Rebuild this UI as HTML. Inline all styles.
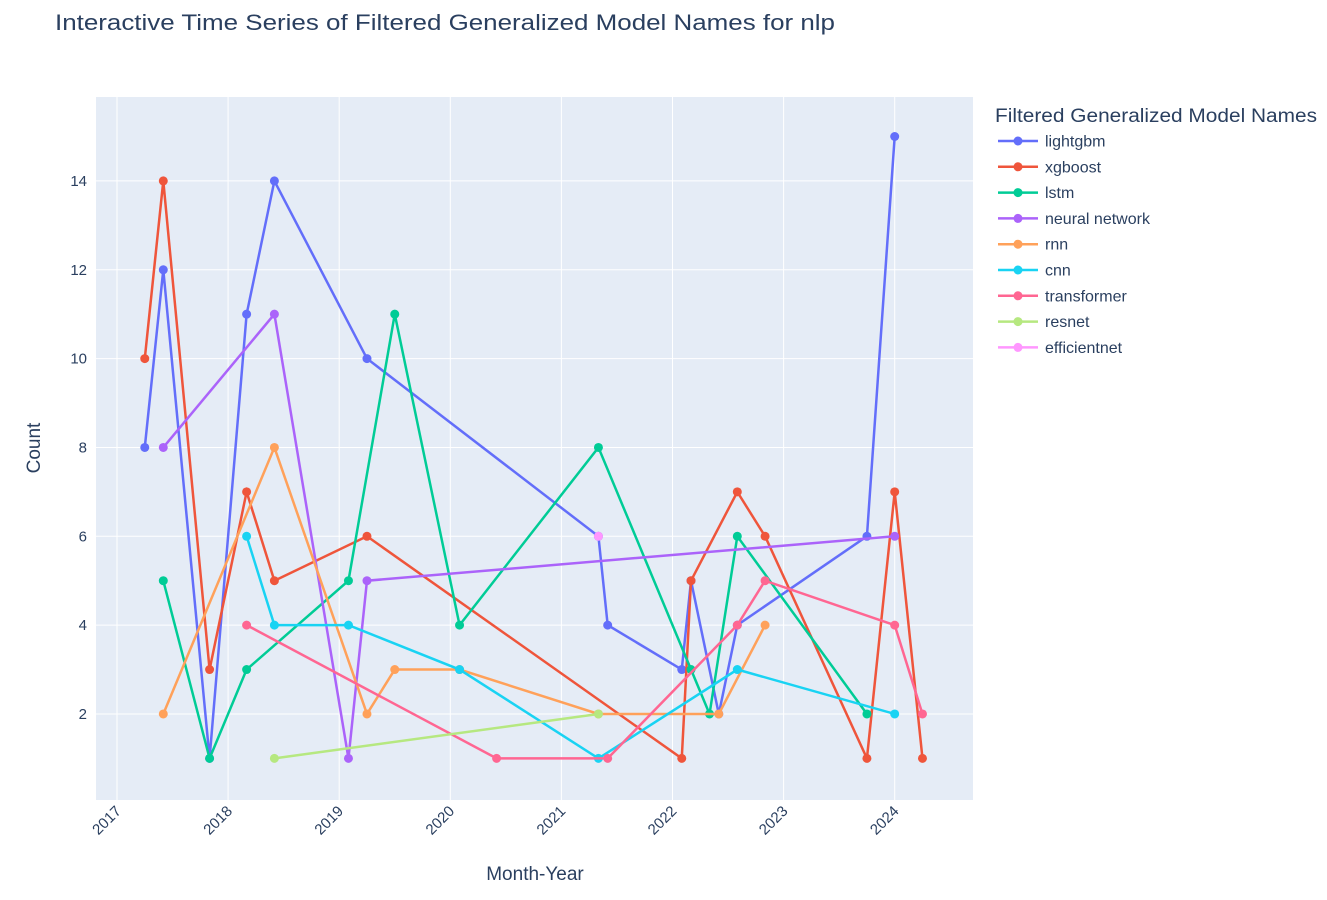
<!DOCTYPE html>
<html><head><meta charset="utf-8"><style>
body{margin:0;background:#fff;font-family:"Liberation Sans",sans-serif;}
svg text{font-family:"Liberation Sans",sans-serif;fill:#2a3f5f;}
</style></head><body>
<svg id="c" width="1327" height="895">
<text x="55" y="30" font-size="22" textLength="780" lengthAdjust="spacingAndGlyphs">Interactive Time Series of Filtered Generalized Model Names for nlp</text>
</svg>
<script>
const seriesNames=["lightgbm","xgboost","lstm","neural network","rnn","cnn","transformer","resnet","efficientnet"];
const colors=["#636efa","#EF553B","#00cc96","#ab63fa","#FFA15A","#19d3f3","#FF6692","#B6E880","#FF97FF"];
const lightgbmDates=["2017-04","2017-06","2017-11","2018-03","2018-06","2019-04","2021-05","2021-06","2022-02","2022-03","2022-06","2022-08","2023-10","2024-01"];
const lightgbmVals=[8,12,1,11,14,10,6,4,3,5,2,4,6,15];
const xgboostDates=["2017-04","2017-06","2017-11","2018-03","2018-06","2019-04","2022-02","2022-03","2022-08","2022-11","2023-10","2024-01","2024-04"];
const xgboostVals=[10,14,3,7,5,6,1,5,7,6,1,7,1];
const lstmDates=["2017-06","2017-11","2018-03","2019-02","2019-07","2020-02","2021-05","2022-03","2022-05","2022-08","2023-10"];
const lstmVals=[5,1,3,5,11,4,8,3,2,6,2];
const nnDates=["2017-06","2018-06","2019-02","2019-04","2024-01"];
const nnVals=[8,11,1,5,6];
const rnnDates=["2017-06","2018-06","2019-04","2019-07","2020-02","2021-05","2022-06","2022-11"];
const rnnVals=[2,8,2,3,3,2,2,4];
const cnnDates=["2018-03","2018-06","2019-02","2020-02","2021-05","2022-08","2024-01"];
const cnnVals=[6,4,4,3,1,3,2];
const trDates=["2018-03","2020-06","2021-06","2022-08","2022-11","2024-01","2024-04"];
const trVals=[4,1,1,4,5,4,2];
const resnetDates=["2018-06","2021-05"];
const resnetVals=[1,2];
const effDates=["2021-05"];
const effVals=[6];
const xTickLabels=["2017","2018","2019","2020","2021","2022","2023","2024"];
const yTickVals=[2,4,6,8,10,12,14];

const allDates=[lightgbmDates,xgboostDates,lstmDates,nnDates,rnnDates,cnnDates,trDates,resnetDates,effDates];
const allVals=[lightgbmVals,xgboostVals,lstmVals,nnVals,rnnVals,cnnVals,trVals,resnetVals,effVals];
const NS="http://www.w3.org/2000/svg";
const svg=document.getElementById('c');
const L=96,R=973,T=97,B=800;
function xs(d){const [y,m]=d.split('-').map(Number);return 117+(y-2017+(m-1)/12)*111.1;}
function ys(v){return 802.8-v*44.42;}
function mk(t,a,p){const e=document.createElementNS(NS,t);for(const k in a)e.setAttribute(k,a[k]);(p||svg).appendChild(e);return e;}
const bg=mk('rect',{x:L,y:T,width:R-L,height:B-T,fill:'#e5ecf6'});


yTickVals.forEach(v=>{
 mk('line',{x1:L,x2:R,y1:ys(v),y2:ys(v),stroke:'#fff','stroke-width':1});
 const t=mk('text',{x:L-9,y:ys(v)+5,'font-size':15,'text-anchor':'end'});t.textContent=v;
 
 
});
xTickLabels.forEach(l=>{
 const x=xs(l+'-01');
 mk('line',{x1:x,x2:x,y1:T,y2:B,stroke:'#fff','stroke-width':1});
 const t=mk('text',{x:x+5,y:B+12,'font-size':15,'text-anchor':'end',transform:`rotate(-45 ${x+5} ${B+12})`});t.textContent=l;
 
 
});
let t=mk('text',{x:535,y:880,'font-size':19,'text-anchor':'middle'});t.textContent='Month-Year';


t=mk('text',{x:40,y:448,'font-size':19,'text-anchor':'middle',transform:'rotate(-90 40 448)'});t.textContent='Count';


allDates.forEach((ds,i)=>{
 const g=mk('g',{});
 
 
 const pts=ds.map((d,j)=>xs(d)+','+ys(allVals[i][j])).join(' ');
 mk('polyline',{points:pts,fill:'none',stroke:colors[i],'stroke-width':2.5},g);
 ds.forEach((d,j)=>{const c=mk('circle',{cx:xs(d),cy:ys(allVals[i][j]),r:4.5,fill:colors[i]},g);
  
  });
});
t=mk('text',{x:995,y:122,'font-size':19,textLength:322,lengthAdjust:'spacingAndGlyphs'});t.textContent='Filtered Generalized Model Names';


seriesNames.forEach((n,i)=>{
 const y=141+i*25.8;
 const g=mk('g',{});
 
 
 mk('line',{x1:998,x2:1038,y1:y,y2:y,stroke:colors[i],'stroke-width':2.5},g);
 mk('circle',{cx:1018,cy:y,r:4.5,fill:colors[i]},g);
 const tt=mk('text',{x:1045,y:y+5.5,'font-size':16},g);tt.textContent=n;
});
</script>
</body></html>
